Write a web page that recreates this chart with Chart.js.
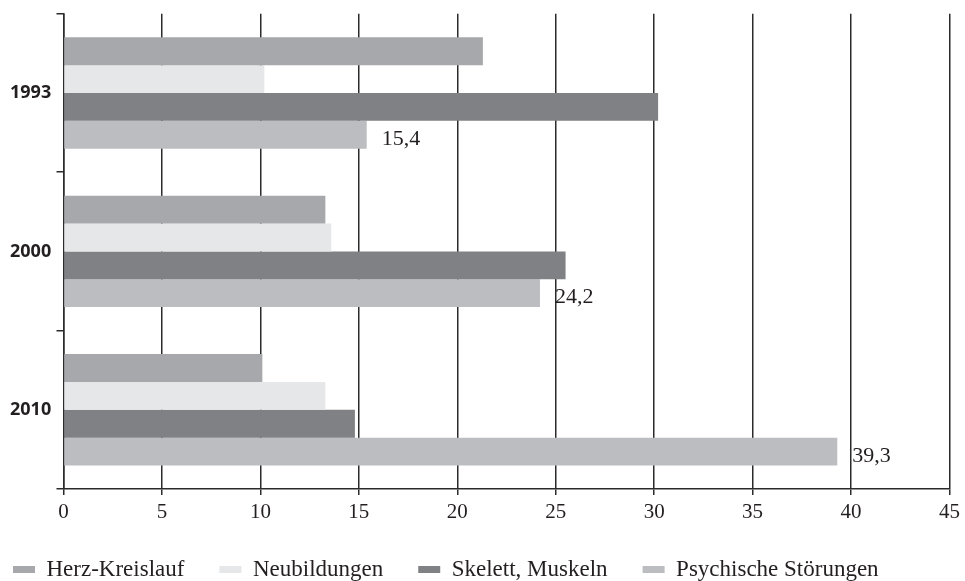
<!DOCTYPE html>
<html>
<head>
<meta charset="utf-8">
<script src="https://cdn.jsdelivr.net/npm/chart.js@4/dist/chart.umd.min.js"></script>
<style>
  html, body { margin: 0; padding: 0; background: #ffffff; }
  canvas { display: block; }
</style>
</head>
<body>
<canvas id="chart" width="965" height="581"></canvas>
<script>
// Arbeitsunfähigkeitstage nach Diagnosegruppen
const years = ['1993', '2000', '2010'];
const seriesNames = ['Herz-Kreislauf', 'Neubildungen', 'Skelett, Muskeln', 'Psychische Störungen'];
const herzKreislauf = [21.3, 13.3, 10.1];
const neubildungen = [10.2, 13.6, 13.3];
const skelettMuskeln = [30.2, 25.5, 14.8];
const psychischeStoerungen = [15.4, 24.2, 39.3];
const xTicks = [0, 5, 10, 15, 20, 25, 30, 35, 40, 45];

const ink = '#231f20';
const rule = '#2b2b2b';
const serif = '"Liberation Serif", "Times New Roman", serif';
const legendGap = 35;

// Value labels next to the "Psychische Störungen" bars, German decimal comma
const valueLabels = {
  id: 'valueLabels',
  afterDatasetsDraw(chart) {
    const idx = 3;
    const meta = chart.getDatasetMeta(idx);
    const values = chart.data.datasets[idx].data;
    const ctx = chart.ctx;
    ctx.save();
    ctx.font = '22px ' + serif;
    ctx.fillStyle = ink;
    ctx.textAlign = 'left';
    ctx.textBaseline = 'alphabetic';
    meta.data.forEach((bar, i) => {
      const text = values[i].toFixed(1).replace('.', ',');
      ctx.fillText(text, bar.x + 15, bar.y + 10);
    });
    ctx.restore();
  }
};

// Pull the legend row to the left margin
const legendPlacement = {
  id: 'legendPlacement',
  afterLayout(chart) {
    const lg = chart.legend;
    if (!lg) return;
    const dx = 13 - (lg.left + legendGap);
    lg.left += dx; lg.right += dx;
  }
};

new Chart(document.getElementById('chart'), {
  type: 'bar',
  data: {
    labels: years,
    datasets: [
      { label: seriesNames[0], data: herzKreislauf, backgroundColor: '#a7a8ab' },
      { label: seriesNames[1], data: neubildungen, backgroundColor: '#e6e7e8' },
      { label: seriesNames[2], data: skelettMuskeln, backgroundColor: '#808184' },
      { label: seriesNames[3], data: psychischeStoerungen, backgroundColor: '#bcbdc0' }
    ]
  },
  options: {
    indexAxis: 'y',
    responsive: false,
    animation: false,
    devicePixelRatio: 1,
    layout: { padding: { left: 10, right: 15, top: 11, bottom: -10 } },
    datasets: {
      bar: { categoryPercentage: 0.703, barPercentage: 1, borderWidth: 0 }
    },
    scales: {
      x: {
        type: 'linear',
        min: 0,
        max: 45,
        afterBuildTicks: (scale) => { scale.ticks = xTicks.map(v => ({ value: v })); },
        ticks: { font: { family: serif, size: 21 }, color: ink, padding: 5 },
        grid: { color: rule, lineWidth: 1.5, tickLength: 6, drawOnChartArea: true },
        border: { color: rule, width: 1.5 },
        afterFit: (scale) => { scale.height = 34; }
      },
      y: {
        ticks: {
          font: { family: '"Open Sans", sans-serif', size: 18, weight: 'bold' },
          color: ink,
          crossAlign: 'far'
        },
        grid: { drawOnChartArea: false, tickLength: 7, color: rule, lineWidth: 1.5, offset: true },
        border: { color: rule, width: 1.5 },
        afterFit: (scale) => { scale.width = 53.5; }
      }
    },
    plugins: {
      legend: {
        position: 'bottom',
        align: 'start',
        labels: {
          boxWidth: 22,
          boxHeight: 7,
          padding: legendGap,
          color: ink,
          font: { family: serif, size: 23 }
        }
      },
      tooltip: { enabled: false }
    }
  },
  plugins: [valueLabels, legendPlacement]
});
</script>
</body>
</html>
